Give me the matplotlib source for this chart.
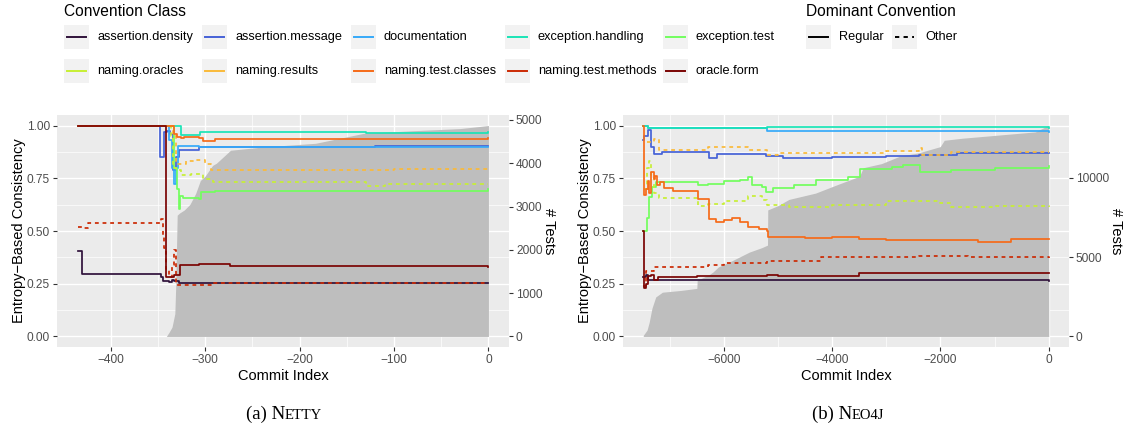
import matplotlib.pyplot as plt
from matplotlib.patches import Rectangle
from matplotlib.lines import Line2D
from matplotlib.offsetbox import TextArea, HPacker, AnnotationBbox
import numpy as np

plt.rcParams['font.family'] = ['Liberation Sans', 'DejaVu Sans']

classes = ["assertion.density", "assertion.message", "documentation",
           "exception.handling", "exception.test", "naming.oracles",
           "naming.results", "naming.test.classes", "naming.test.methods",
           "oracle.form"]
class_colors = ["#30123B", "#4662D7", "#36AAF9", "#1AE4B6", "#72FE5E",
                "#C7EF34", "#FABA39", "#F66B19", "#CB2A04", "#7A0403"]
# classes whose dominant convention is "Other" (dashed)
other_classes = ["naming.oracles", "naming.results", "naming.test.methods"]

# ---- Netty: (commit index, consistency) change points
netty_assertion_density = [(-435, 0.405), (-430, 0.295), (-347, 0.28), (-345, 0.265),
                           (-338, 0.26), (-335, 0.27), (-333, 0.262), (-328, 0.255), (0, 0.255)]
netty_assertion_message = [(-435, 1.0), (-348, 0.85), (-344, 0.97), (-340, 0.975), (-337, 0.96),
                           (-334, 0.79), (-331, 0.85), (-328, 0.884), (-306, 0.9), (-120, 0.905),
                           (0, 0.905)]
netty_documentation = [(-435, 1.0), (-338, 0.93), (-335, 0.8), (-333, 0.725), (-331, 0.8),
                       (-329, 0.905), (-306, 0.897), (0, 0.897)]
netty_exception_handling = [(-435, 1.0), (-326, 0.955), (-305, 0.968), (-130, 0.965), (0, 0.97)]
netty_exception_test = [(-435, 1.0), (-333, 0.8), (-330, 0.7), (-328, 0.605), (-327, 0.665),
                        (-323, 0.655), (-306, 0.652), (-304, 0.683), (-290, 0.69), (-150, 0.69),
                        (0, 0.697)]
netty_naming_oracles = [(-435, 1.0), (-336, 0.95), (-334, 0.8), (-331, 0.79), (-326, 0.765),
                        (-315, 0.77), (-302, 0.745), (-292, 0.73), (-130, 0.715), (-110, 0.725),
                        (0, 0.725)]
netty_naming_results = [(-435, 1.0), (-334, 0.95), (-331, 0.82), (-320, 0.83), (-312, 0.837),
                        (-300, 0.82), (-294, 0.79), (-100, 0.793), (0, 0.796)]
netty_naming_test_classes = [(-435, 1.0), (-333, 0.96), (-330, 0.945), (-326, 0.94), (-322, 0.945),
                             (-306, 0.94), (-302, 0.925), (-290, 0.938), (0, 0.94)]
netty_naming_test_methods = [(-435, 0.52), (-430, 0.515), (-424, 0.54), (-347, 0.555), (-345, 0.47),
                             (-343, 0.42), (-341, 0.32), (-338, 0.28), (-335, 0.34), (-333, 0.41),
                             (-331, 0.243), (-292, 0.252), (0, 0.253)]
netty_oracle_form = [(-435, 1.0), (-341, 0.282), (-333, 0.29), (-327, 0.338), (-306, 0.345),
                     (-274, 0.334), (-100, 0.332), (0, 0.328)]
netty_tests_x = [-435, -341, -338, -335, -332, -331, -329.5, -327, -322, -316, -310, -305,
                 -300, -292, -288, -273, -236, -183, -132, -80, -30, 0]
netty_tests_n = [0, 0, 100, 215, 525, 1200, 2800, 2850, 2920, 3050, 3300, 3600,
                 3700, 3950, 4000, 4300, 4380, 4460, 4690, 4750, 4800, 4870]

# ---- Neo4j
neo4j_assertion_density = [(-7490, 0.28), (-7440, 0.29), (-7400, 0.268), (-5200, 0.266), (0, 0.265)]
neo4j_assertion_message = [(-7490, 0.93), (-7470, 0.95), (-7400, 0.98), (-7340, 0.9), (-7290, 0.865),
                           (-7150, 0.876), (-6280, 0.845), (-6130, 0.864), (-5230, 0.855),
                           (-4900, 0.845), (-4000, 0.85), (-3000, 0.855), (-2400, 0.862),
                           (-1700, 0.868), (0, 0.872)]
neo4j_documentation = [(-7490, 1.0), (-7400, 0.99), (-5200, 0.975), (-2000, 0.972), (0, 0.97)]
neo4j_exception_handling = [(-7490, 1.0), (-7400, 0.99), (-5200, 0.992), (0, 0.99)]
neo4j_exception_test = [(-7490, 0.5), (-7430, 0.56), (-7380, 0.66), (-7330, 0.71), (-7260, 0.732),
                        (-6480, 0.718), (-6300, 0.725), (-6000, 0.735), (-5700, 0.742),
                        (-5560, 0.755), (-5480, 0.72), (-5300, 0.71), (-5220, 0.685),
                        (-5100, 0.705), (-4700, 0.72), (-4300, 0.74), (-3700, 0.755),
                        (-3480, 0.795), (-2900, 0.805), (-2700, 0.813), (-2370, 0.78),
                        (-1800, 0.79), (-1000, 0.8), (0, 0.81)]
neo4j_naming_oracles = [(-7480, 0.7), (-7420, 0.8), (-7390, 0.83), (-7350, 0.76), (-7300, 0.68),
                        (-7200, 0.655), (-6480, 0.62), (-6300, 0.63), (-6000, 0.64),
                        (-5550, 0.665), (-5300, 0.645), (-5200, 0.625), (-4800, 0.615),
                        (-4000, 0.625), (-3000, 0.64), (-2000, 0.635), (-1800, 0.615),
                        (-1000, 0.62), (0, 0.615)]
neo4j_naming_results = [(-7430, 0.92), (-7300, 0.935), (-7200, 0.885), (-6450, 0.885),
                        (-6300, 0.9), (-5700, 0.9), (-5550, 0.885), (-5200, 0.862),
                        (-5000, 0.87), (-4000, 0.87), (-3000, 0.88), (-2400, 0.893),
                        (-2350, 0.862), (-1800, 0.873), (0, 0.875)]
neo4j_naming_test_classes = [(-7490, 1.0), (-7480, 0.67), (-7440, 0.7), (-7410, 0.735),
                             (-7380, 0.68), (-7340, 0.78), (-7300, 0.745), (-7270, 0.76),
                             (-7230, 0.72), (-7180, 0.73), (-7100, 0.702), (-6950, 0.69),
                             (-6480, 0.65), (-6280, 0.555), (-6150, 0.545), (-6000, 0.55),
                             (-5850, 0.56), (-5700, 0.545), (-5550, 0.52), (-5350, 0.51),
                             (-5200, 0.5), (-5190, 0.472), (-4500, 0.465), (-4000, 0.47),
                             (-3500, 0.46), (-3000, 0.455), (-1300, 0.448), (-700, 0.46),
                             (0, 0.462)]
neo4j_naming_test_methods = [(-7490, 0.24), (-7440, 0.31), (-7300, 0.328), (-6500, 0.33),
                             (-6300, 0.34), (-6000, 0.35), (-5200, 0.36), (-4200, 0.375),
                             (-2400, 0.383), (-1500, 0.377), (0, 0.374)]
neo4j_oracle_form = [(-7490, 0.5), (-7480, 0.23), (-7440, 0.25), (-7400, 0.285), (-7340, 0.29),
                     (-7300, 0.27), (-7220, 0.28), (-6500, 0.285), (-5200, 0.29), (-5000, 0.285),
                     (-3500, 0.3), (0, 0.3)]
neo4j_tests_x = [-7490, -7420, -7380, -7330, -7260, -7137, -6800, -6500, -6494, -6270, -6200,
                 -6100, -5900, -5530, -5300, -5195, -5190, -5000, -4800, -4307, -3900, -3494,
                 -3427, -3088, -2749, -2411, -2004, -1930, -1598, -921, -244, -100, 0]
neo4j_tests_n = [70, 400, 900, 1770, 2490, 2790, 2900, 3030, 3540, 3900, 4070,
                 4390, 4690, 5320, 5600, 5760, 7980, 8250, 8640, 9040, 9580, 10100,
                 10640, 10900, 11370, 11570, 11970, 12370, 12500, 12700, 12900, 13150, 13300]

netty_series = [netty_assertion_density, netty_assertion_message, netty_documentation,
                netty_exception_handling, netty_exception_test, netty_naming_oracles,
                netty_naming_results, netty_naming_test_classes, netty_naming_test_methods,
                netty_oracle_form]
neo4j_series = [neo4j_assertion_density, neo4j_assertion_message, neo4j_documentation,
                neo4j_exception_handling, neo4j_exception_test, neo4j_naming_oracles,
                neo4j_naming_results, neo4j_naming_test_classes, neo4j_naming_test_methods,
                neo4j_oracle_form]

DASH = (0, (2.2, 2.2))
W, H = 1131, 429

fig = plt.figure(figsize=(W / 100, H / 100), dpi=100)


def px_axes(x0, x1, y0, y1):
    return fig.add_axes([x0 / W, 1 - y1 / H, (x1 - x0) / W, (y1 - y0) / H])


def draw_panel(ax, series, tests_x, tests_n, xmajor, xminor, sec_ticks):
    top = max(tests_n)
    lo = min(tests_x)
    ax.set_facecolor("#EBEBEB")
    for s in ax.spines.values():
        s.set_visible(False)
    ax.fill_between(tests_x, np.array(tests_n) / top, color="#BEBEBE", lw=0, zorder=2)
    for name, color, pts in zip(classes, class_colors, series):
        x, y = zip(*pts)
        ls = DASH if name in other_classes else "-"
        ax.plot(x, y, drawstyle="steps-post", color=color, lw=1.25, ls=ls, zorder=3)
    span = -lo
    ax.set_xlim(lo - 0.05 * span, 0.05 * span)
    ax.set_ylim(-0.05, 1.05)
    ax.set_xticks(xmajor)
    ax.set_xticks(xminor, minor=True)
    ax.set_yticks([0, 0.25, 0.5, 0.75, 1.0])
    ax.set_yticklabels(["0.00", "0.25", "0.50", "0.75", "1.00"])
    ax.set_yticks([0.125, 0.375, 0.625, 0.875], minor=True)
    ax.set_axisbelow(True)
    ax.grid(which="major", color="white", lw=1.0)
    ax.grid(which="minor", color="white", lw=0.5)
    ax.tick_params(which="major", length=3, width=0.8, color="#333333",
                   labelsize=8.6, labelcolor="#4D4D4D", pad=2)
    ax.tick_params(which="minor", length=0)
    ax.set_xlabel("Commit Index", fontsize=10.5, labelpad=2)
    ax.set_ylabel("Entropy\u2212Based Consistency", fontsize=10.5, labelpad=1)

    sec = ax.secondary_yaxis("right", functions=(lambda v, t=top: v * t,
                                                 lambda v, t=top: v / t))
    sec.set_yticks(sec_ticks)
    for s in sec.spines.values():
        s.set_visible(False)
    sec.tick_params(length=3, width=0.8, color="#333333", labelsize=8.6,
                    labelcolor="#4D4D4D", pad=2)
    sec.set_ylabel("# Tests", fontsize=10.5, rotation=270, labelpad=10)


ax1 = px_axes(57, 509, 115, 347)
draw_panel(ax1, netty_series, netty_tests_x, netty_tests_n,
           [-400, -300, -200, -100, 0], [-350, -250, -150, -50],
           [0, 1000, 2000, 3000, 4000, 5000])
ax2 = px_axes(623, 1069, 115, 347)
draw_panel(ax2, neo4j_series, neo4j_tests_x, neo4j_tests_n,
           [-6000, -4000, -2000, 0], [-7000, -5000, -3000, -1000],
           [0, 5000, 10000])

# legends and captions, laid out in figure pixels
ov = fig.add_axes([0, 0, 1, 1], zorder=5)
ov.set_xlim(0, W)
ov.set_ylim(H, 0)
ov.axis("off")


def legend_key(x, y, color, ls, label):
    ov.add_patch(Rectangle((x, y - 12), 25, 24, color="#F2F2F2", lw=0))
    ov.add_line(Line2D([x + 3, x + 22], [y, y], color=color, lw=1.4, ls=ls))
    ov.text(x + 33, y, label, fontsize=9.2, va="center", ha="left", color="black")


ov.text(64, 11, "Convention Class", fontsize=11.2, va="center", ha="left")
col_x = [64, 202, 351, 505, 663]
row_y = [37, 71]
for i, (name, color) in enumerate(zip(classes, class_colors)):
    legend_key(col_x[i % 5], row_y[i // 5], color, "-", name)

ov.text(806, 11, "Dominant Convention", fontsize=11.2, va="center", ha="left")
legend_key(806, 37, "black", "-", "Regular")
legend_key(892, 37, "black", DASH, "Other")


def caption(xc, parts):
    boxes = [TextArea(t, textprops=dict(fontfamily="Liberation Serif", fontsize=s))
             for t, s in parts]
    pack = HPacker(children=boxes, align="baseline", pad=0, sep=0)
    ov.add_artist(AnnotationBbox(pack, (xc, 414), xycoords="data", frameon=False,
                                 box_alignment=(0.5, 0.5)))


caption(284, [("(a) N", 13.5), ("ETTY", 10.5)])
caption(848, [("(b) N", 13.5), ("EO4J", 10.5)])

fig.savefig("out.png", dpi=100)
